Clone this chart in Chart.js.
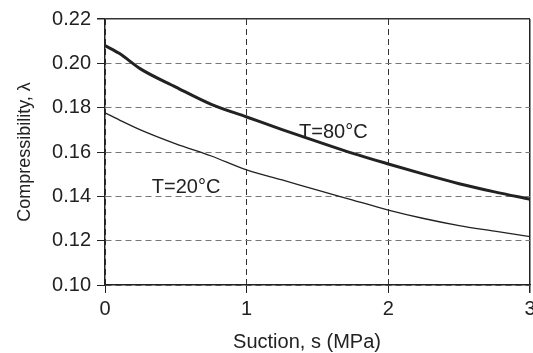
<!DOCTYPE html>
<html>
<head>
<meta charset="utf-8">
<script src="https://cdn.jsdelivr.net/npm/chart.js@4/dist/chart.umd.min.js"></script>
<style>
  body { margin: 0; background: #fff; }
  #wrap { width: 533px; height: 353px; }
</style>
</head>
<body>
<div id="wrap"><canvas id="compChart" width="533" height="353"></canvas></div>
<script>
// Data
const suction = [0, 0.1, 0.25, 0.5, 0.75, 1, 1.25, 1.5, 1.75, 2, 2.25, 2.5, 2.75, 3];
const lambda80 = [0.208, 0.2045, 0.1975, 0.1893, 0.1815, 0.1758, 0.1701, 0.1647, 0.1594, 0.1546, 0.1500, 0.1457, 0.1420, 0.1387];
const lambda20 = [0.1777, 0.1745, 0.1700, 0.1637, 0.1582, 0.1519, 0.1474, 0.1428, 0.1383, 0.1338, 0.1300, 0.1268, 0.1243, 0.1218];
const curveLabels = ['T=80°C', 'T=20°C'];
const labelAt = [[1.37, 0.169], [0.33, 0.1438]];
const xTitle = 'Suction, s (MPa)';
const yTitle = 'Compressibility, λ';

const fontFamily = '"Liberation Sans", Arial, sans-serif';
const ink = '#222';

function toPoints(xs, ys) {
  return xs.map((x, i) => ({ x: x, y: ys[i] }));
}

// curve labels + axis titles
const extraText = {
  id: 'extraText',
  afterDatasetsDraw(chart) {
    const ctx = chart.ctx;
    const xs = chart.scales.x;
    const ys = chart.scales.y;
    ctx.save();
    ctx.fillStyle = ink;
    ctx.font = '20px ' + fontFamily;
    ctx.textAlign = 'left';
    ctx.textBaseline = 'middle';
    curveLabels.forEach((txt, i) => {
      ctx.fillText(txt, xs.getPixelForValue(labelAt[i][0]), ys.getPixelForValue(labelAt[i][1]));
    });

    // x title
    ctx.textAlign = 'center';
    ctx.fillText(xTitle, 307, 342);

    // y title, rotated
    ctx.font = '18px ' + fontFamily;
    ctx.translate(25, 152);
    ctx.rotate(-Math.PI / 2);
    ctx.fillText(yTitle, 0, 0);
    ctx.restore();
  }
};

const compChart = new Chart(document.getElementById('compChart'), {
  type: 'line',
  data: {
    datasets: [
      {
        label: curveLabels[0],
        data: toPoints(suction, lambda80),
        borderColor: ink,
        borderWidth: 3,
        pointRadius: 0,
        cubicInterpolationMode: 'monotone'
      },
      {
        label: curveLabels[1],
        data: toPoints(suction, lambda20),
        borderColor: ink,
        borderWidth: 1.3,
        pointRadius: 0,
        cubicInterpolationMode: 'monotone'
      }
    ]
  },
  options: {
    responsive: false,
    animation: false,
    layout: { padding: { left: 0, top: 19, right: 3, bottom: 0 } },
    plugins: {
      legend: { display: false },
      tooltip: { enabled: false }
    },
    scales: {
      x: {
        type: 'linear',
        min: 0,
        max: 3,
        ticks: {
          stepSize: 1,
          padding: 4,
          color: ink,
          font: { family: fontFamily, size: 20 }
        },
        grid: {
          color: ctx => ctx.index === 3 ? ink : '#333',
          lineWidth: ctx => ctx.index === 3 ? 1.5 : 1,
          tickLength: 8,
          tickColor: ink
        },
        border: {
          color: ink,
          width: 1.5,
          dash: ctx => ctx.index === 3 ? [] : [6, 4]
        },
        afterFit(s) {
          s.height = 68;
          s.paddingLeft = 0;
          s.paddingRight = 0;
        }
      },
      y: {
        min: 0.10,
        max: 0.22,
        ticks: {
          stepSize: 0.02,
          padding: 6,
          color: ink,
          font: { family: fontFamily, size: 20 },
          callback: v => v.toFixed(2)
        },
        grid: {
          color: ctx => ctx.index === 6 ? '#333' : '#777',
          lineWidth: ctx => ctx.index === 6 ? 1.5 : 1,
          tickLength: 8,
          tickColor: ink
        },
        border: {
          color: ink,
          width: 1.5,
          dash: ctx => ctx.index === 6 ? [] : [6, 4]
        },
        afterFit(s) {
          s.width = 105;
        }
      }
    }
  },
  plugins: [extraText]
});
</script>
</body>
</html>
